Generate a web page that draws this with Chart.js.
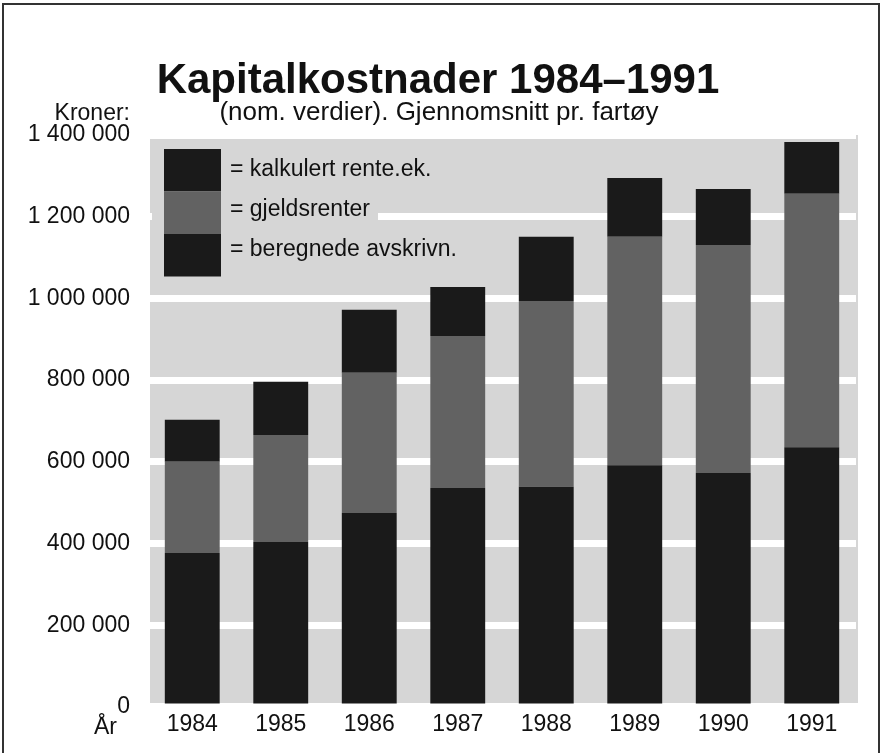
<!DOCTYPE html>
<html>
<head>
<meta charset="utf-8">
<script src="https://cdn.jsdelivr.net/npm/chart.js"></script>
<style>
  html, body { margin: 0; padding: 0; background: #fff; }
</style>
</head>
<body>
<canvas id="chart" width="882" height="753"></canvas>
<script>
// Data (kroner)
const years = ["1984", "1985", "1986", "1987", "1988", "1989", "1990", "1991"];
const avskrivninger = [377000, 404000, 475000, 536000, 539000, 592000, 573000, 636000];
const gjeldsrenter = [223000, 262000, 343000, 372000, 455000, 559000, 558000, 620000];
const kalkRente = [103000, 130000, 154000, 120000, 157000, 144000, 137000, 127000];
const seriesLabels = ["beregnede avskrivn.", "gjeldsrenter", "kalkulert rente.ek."];

const FONT = "'Liberation Sans', Arial, Helvetica, sans-serif";
const DARK = "#1a1a1a";
const GREY = "#626262";
const BG = "#d6d6d6";

// Format 1400000 -> "1 400 000"
function formatKroner(v) {
  return String(v).replace(/\B(?=(\d{3})+(?!\d))/g, " ");
}

// Background, frame and texts around the plot
const framePlugin = {
  id: "frame",
  beforeDraw(chart) {
    const ctx = chart.ctx;
    const a = chart.chartArea;
    ctx.save();
    ctx.fillStyle = "#fff";
    ctx.fillRect(0, 0, chart.width, chart.height);
    ctx.fillStyle = BG;
    ctx.fillRect(a.left + 2, a.top, a.right - a.left, a.bottom - a.top - 4);

    ctx.strokeStyle = "#333";
    ctx.lineWidth = 2;
    ctx.beginPath();
    ctx.moveTo(3, chart.height);
    ctx.lineTo(3, 4);
    ctx.lineTo(879, 4);
    ctx.lineTo(879, chart.height);
    ctx.stroke();

    ctx.fillStyle = "#111";
    ctx.textAlign = "center";
    ctx.textBaseline = "alphabetic";
    ctx.font = "bold 42px " + FONT;
    ctx.fillText("Kapitalkostnader 1984\u20131991", 438, 93);
    ctx.font = "26px " + FONT;
    ctx.fillText("(nom. verdier). Gjennomsnitt pr. fart\u00f8y", 439, 120);

    ctx.textAlign = "right";
    ctx.font = "23px " + FONT;
    ctx.fillText("Kroner:", 130, 120);
    ctx.fillText("\u00c5r", 117, 734);
    ctx.restore();
  }
};

// Stacked legend swatch in the upper left of the plot
const legendPlugin = {
  id: "stackLegend",
  afterDatasetsDraw(chart) {
    const ctx = chart.ctx;
    ctx.save();
    ctx.fillStyle = BG;
    ctx.fillRect(152, 140, 226, 150);

    const x = 164, w = 57, top = 149, h = 42.5;
    const ds = chart.data.datasets.slice().reverse();
    const baselines = [176, 216, 256];
    ds.forEach((d, i) => {
      ctx.fillStyle = d.backgroundColor;
      ctx.fillRect(x, top + i * h, w, h);
      ctx.fillStyle = "#111";
      ctx.font = "23px " + FONT;
      ctx.textAlign = "left";
      ctx.textBaseline = "alphabetic";
      ctx.fillText("= " + d.label, 230, baselines[i]);
    });
    ctx.restore();
  }
};

new Chart(document.getElementById("chart").getContext("2d"), {
  type: "bar",
  data: {
    labels: years,
    datasets: [
      { label: seriesLabels[0], data: avskrivninger, backgroundColor: DARK },
      { label: seriesLabels[1], data: gjeldsrenter, backgroundColor: GREY },
      { label: seriesLabels[2], data: kalkRente, backgroundColor: DARK },
    ],
  },
  options: {
    responsive: false,
    animation: false,
    devicePixelRatio: 1,
    layout: { padding: { top: 135, right: 26, left: 0, bottom: 0 } },
    datasets: {
      bar: { barPercentage: 0.62, categoryPercentage: 1.0, borderWidth: 0 },
    },
    plugins: {
      legend: { display: false },
      tooltip: { enabled: false },
    },
    scales: {
      x: {
        stacked: true,
        grid: { display: false },
        border: { display: false },
        ticks: {
          color: "#111",
          font: { family: FONT, size: 23 },
          padding: -4,
          maxRotation: 0,
          autoSkip: false,
        },
        afterFit(scale) { scale.height = 46; },
      },
      y: {
        stacked: true,
        min: 0,
        max: 1400000,
        grid: { color: "#fff", lineWidth: 7, drawTicks: false },
        border: { display: false },
        ticks: {
          stepSize: 200000,
          color: "#111",
          font: { family: FONT, size: 23 },
          padding: 18,
          callback: (v) => formatKroner(v),
        },
        afterFit(scale) { scale.width = 148; },
      },
    },
  },
  plugins: [framePlugin, legendPlugin],
});
</script>
</body>
</html>
